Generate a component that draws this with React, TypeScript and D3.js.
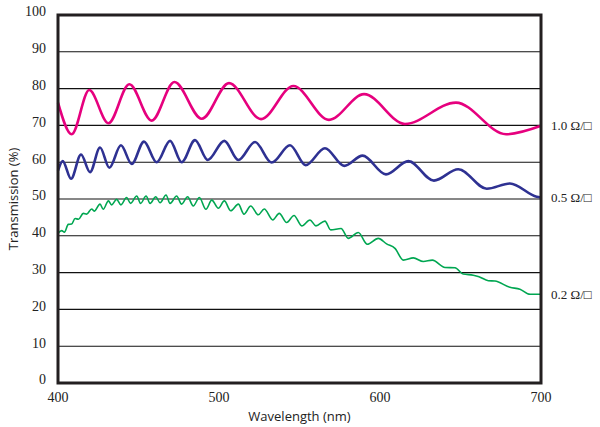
import * as d3 from 'd3';
import { useEffect, useRef } from 'react';

// 1.0 ohm/sq film (extrema)
const wl10 = [400, 408.5, 419.4, 431.3, 444.3, 458.2, 472.3, 489.3, 506.2, 526.1, 546.2, 568.3, 590.1, 615.5, 647.2, 678.3, 700];
const t10 = [76.2, 67.6, 79.6, 70.6, 81.2, 71.3, 81.8, 71.8, 81.5, 71.7, 80.7, 71.5, 78.5, 70.4, 76.2, 67.6, 69.9];

// 0.5 ohm/sq film
const wl05 = [400, 402.9, 408.1, 414.3, 419.9, 426.1, 431.9, 439.1, 445.8, 453.4, 461.3, 469.6, 476.8, 485.1, 493.0, 503.3, 512.0, 522.4, 532.7, 544.1, 553.8, 565.8, 577.8, 589.2, 603.7, 617.6, 633.5, 648.6, 666.3, 680.7, 697.3, 700];
const t05 = [57.7, 60.3, 55.5, 62.1, 57.3, 64.0, 58.5, 64.6, 59.5, 65.6, 60.0, 65.8, 60.0, 66.0, 60.6, 65.8, 60.6, 65.5, 59.9, 64.6, 59.2, 63.8, 59.0, 61.8, 56.7, 60.3, 55.0, 58.1, 52.8, 54.2, 50.6, 50.4];

// 0.2 ohm/sq film
const wl02 = [400, 402.3, 404, 406.4, 408.5, 410.6, 412.7, 415.7, 417.8, 420.9, 422.5, 426.1, 428.1, 431.3, 433.3, 436.4, 439.1, 442.6, 445.1, 448.9, 451.3, 454.7, 457.2, 460.7, 463.4, 467.1, 469.6, 473.7, 476.8, 480.5, 484, 487.8, 491.9, 495.5, 499.6, 503.3, 507.3, 512, 515.5, 519.7, 524.4, 528.1, 533.4, 537.4, 542, 546.6, 551.4, 556.5, 560.2, 565.8, 569.4, 575.8, 580.3, 586.5, 592.1, 598.9, 604.1, 609.3, 614.5, 620.7, 626.9, 632.5, 640.4, 646.6, 651.7, 657.9, 661.5, 667.3, 671.4, 680.7, 686.9, 693.2, 700];
const t02 = [40.7, 41.4, 41.0, 43.1, 43.2, 44.7, 44.5, 46.1, 45.9, 47.3, 46.7, 48.6, 47.2, 49.5, 48.4, 49.9, 48.4, 50.4, 48.8, 50.8, 48.8, 50.8, 48.8, 50.6, 49.0, 51.1, 48.8, 50.8, 48.6, 50.6, 48.1, 50.4, 47.2, 49.7, 47.5, 49.5, 46.8, 48.6, 45.9, 48.1, 45.7, 47.3, 44.3, 46.1, 43.6, 45.5, 42.7, 44.3, 42.7, 44.0, 41.6, 42.0, 39.3, 40.9, 37.7, 39.3, 37.8, 36.6, 33.4, 34.0, 33.0, 33.4, 31.4, 31.3, 29.6, 29.3, 28.9, 27.8, 27.7, 26.0, 25.5, 24.1, 24.1];

const xTicks = [400, 500, 600, 700];
const yTicks = [0, 10, 20, 30, 40, 50, 60, 70, 80, 90, 100];

const seriesNames = ['1.0 Ω/□', '0.5 Ω/□', '0.2 Ω/□'];
const seriesColors = ['#e6007e', '#2e3192', '#00a651'];
const seriesWidths = [2.6, 2.6, 1.6];

const serif = '"Liberation Serif", "DejaVu Serif", serif';
const sans = '"Open Sans", "Liberation Sans", sans-serif';

const App = () => {
  const svgRef = useRef<SVGSVGElement | null>(null);

  useEffect(() => {
    if (!svgRef.current) return;
    document.body.style.margin = '0';
    const svg = d3.select(svgRef.current);
    svg.selectAll('*').remove();

    const x = d3.scaleLinear().domain([400, 700]).range([58, 541]);
    const y = d3.scaleLinear().domain([0, 100]).range([383, 15]);

    // grid
    svg
      .append('g')
      .selectAll('line')
      .data(yTicks.filter((v) => v > 0 && v < 100))
      .join('line')
      .attr('x1', x(400))
      .attr('x2', x(700))
      .attr('y1', (v) => y(v))
      .attr('y2', (v) => y(v))
      .attr('stroke', '#111')
      .attr('stroke-width', 1.1);

    const series = [
      { wl: wl10, t: t10 },
      { wl: wl05, t: t05 },
      { wl: wl02, t: t02 },
    ];

    const line = d3
      .line<[number, number]>()
      .x((d) => x(d[0]))
      .y((d) => y(d[1]))
      .curve(d3.curveMonotoneX);

    series.forEach((s, i) => {
      const pts = s.wl.map((w, k) => [w, s.t[k]] as [number, number]);
      svg
        .append('path')
        .datum(pts)
        .attr('fill', 'none')
        .attr('stroke', seriesColors[i])
        .attr('stroke-width', seriesWidths[i])
        .attr('stroke-linejoin', 'round')
        .attr('d', line);

      svg
        .append('text')
        .attr('x', 551)
        .attr('y', y(s.t[s.t.length - 1]))
        .attr('dy', '0.35em')
        .attr('font-family', serif)
        .attr('font-size', 13)
        .attr('fill', '#222')
        .text(seriesNames[i]);
    });

    // frame
    svg
      .append('rect')
      .attr('x', x(400))
      .attr('y', y(100))
      .attr('width', x(700) - x(400))
      .attr('height', y(0) - y(100))
      .attr('fill', 'none')
      .attr('stroke', '#231f20')
      .attr('stroke-width', 3);

    svg
      .append('g')
      .selectAll('text')
      .data(yTicks)
      .join('text')
      .attr('x', 46)
      .attr('y', (v) => y(v))
      .attr('dy', '0.1em')
      .attr('text-anchor', 'end')
      .attr('font-family', serif)
      .attr('font-size', 14)
      .attr('fill', '#222')
      .text((v) => v);

    svg
      .append('g')
      .selectAll('text')
      .data(xTicks)
      .join('text')
      .attr('x', (v) => x(v))
      .attr('y', 402)
      .attr('text-anchor', 'middle')
      .attr('font-family', serif)
      .attr('font-size', 14)
      .attr('fill', '#222')
      .text((v) => v);

    svg
      .append('text')
      .attr('x', x(550))
      .attr('y', 421)
      .attr('text-anchor', 'middle')
      .attr('font-family', sans)
      .attr('font-size', 13)
      .attr('fill', '#222')
      .text('Wavelength (nm)');

    svg
      .append('text')
      .attr('transform', `translate(18, ${y(50)}) rotate(-90)`)
      .attr('text-anchor', 'middle')
      .attr('font-family', sans)
      .attr('font-size', 13)
      .attr('fill', '#222')
      .text('Transmission (%)');
  }, []);

  return <svg ref={svgRef} width={600} height={427} style={{ display: 'block', background: '#fff' }} />;
};

export default App;
